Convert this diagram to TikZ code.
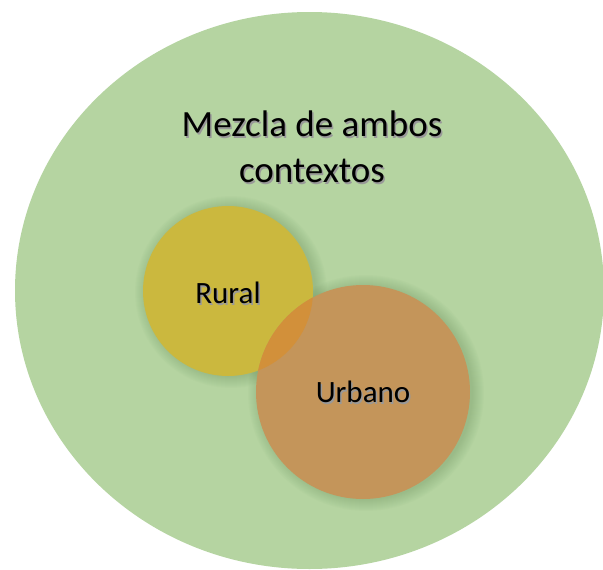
\documentclass[tikz,border=0pt]{standalone}
\usepackage{fontspec}
\setmainfont{Carlito}
\definecolor{bggreen}{HTML}{B5D4A1}
\definecolor{ruralc}{HTML}{CBB83E}
\definecolor{urbanc}{HTML}{C4955A}
\definecolor{overc}{HTML}{D2903A}
\definecolor{glowc}{HTML}{6F9460}
\newcommand\shtxt[1]{\rlap{\hspace{1.5pt}\raisebox{-1.5pt}{\textcolor{black!40}{#1}}}#1}
\tikzset{
  lbl/.style={font=\fontsize{31}{36}\selectfont, text=black, align=center},
  ttl/.style={font=\fontsize{37}{46}\selectfont, text=black, align=center},
  glowring/.style={fill=glowc, opacity=0.03}
}
\begin{document}
\begin{tikzpicture}[x=1pt,y=-1pt]
\useasboundingbox (0,0) rectangle (603,570);
\fill[white] (0,0) rectangle (603,570);
\fill[bggreen] (309.5,290.5) ellipse [x radius=294.5, y radius=278.5];
% soft shadows
\foreach \k in {1,...,12} {
  \fill[glowring] (231,292) circle [radius={84+\k}];
  \fill[glowring] (366,393) circle [radius={106+\k}];
}
% circles
\fill[ruralc] (228,291) circle [radius=85];
\fill[urbanc] (363,392) circle [radius=107];
\begin{scope}
  \clip (228,291) circle [radius=85];
  \fill[overc] (363,392) circle [radius=107];
\end{scope}
% texts
\node[ttl] (title) at (312,148) {\shtxt{Mezcla de ambos}\\\shtxt{contextos}};
\node[lbl] (rural) at (228,294) {\shtxt{Rural}};
\node[lbl] (urbano) at (363,393) {\shtxt{Urbano}};
\end{tikzpicture}
\end{document}
